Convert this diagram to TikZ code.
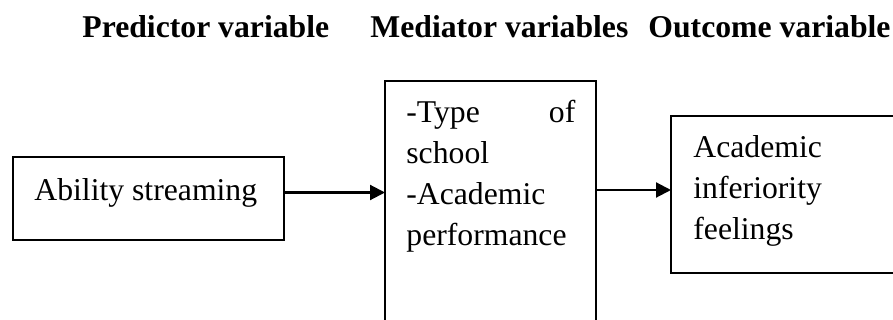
\documentclass[tikz,border=0pt]{standalone}
\usepackage{fontspec}
\setmainfont{Liberation Serif}
\usetikzlibrary{arrows.meta}

\tikzset{
  box/.style={draw, line width=1pt, anchor=north west, inner sep=0pt, outer sep=0pt},
  txt/.style={anchor=base west, inner sep=0pt, align=left},
  head/.style={anchor=base west, inner sep=0pt, font=\fontsize{15.85pt}{20.5pt}\selectfont\bfseries},
  link/.style={line width=1.05pt, -{Triangle[length=7.5pt,width=7.5pt]}}
}

\begin{document}
\begin{tikzpicture}[x=0.5pt, y=-0.5pt, font=\fontsize{15.85pt}{20.5pt}\selectfont]
\useasboundingbox (0,0) rectangle (893,320);
\clip (0,0) rectangle (893,320);

\node[head] (predictor) at (82,38) {Predictor variable};
\node[head] (mediators) at (370,38) {Mediator variables};
\node[head] (outcomehead) at (648,38) {Outcome variable};

\node[box, minimum width=135.5pt, minimum height=41.5pt] (ability) at (13,157) {};
\node[box, minimum width=105.5pt, minimum height=130pt] (mediator) at (385,81) {};
\node[box, minimum width=125pt, minimum height=78.5pt] (outcome) at (671,116) {};

\node[txt] (abilitytext) at ([shift={(21,43)}]ability.north west) {Ability streaming};
\node[txt, text width=84.5pt] (mediatortext) at ([shift={(21,42)}]mediator.north west)
  {-Type\hfill of\\school\\-Academic\\performance};
\node[txt, text width=100pt] (outcometext) at ([shift={(22,42)}]outcome.north west)
  {Academic\\inferiority\\feelings};

\draw[link] ([yshift=3pt]ability.east) -- ([yshift=3pt]ability.east -| mediator.west);
\draw[link] ([yshift=2.25pt]outcome.west -| mediator.east) -- ([yshift=2.25pt]outcome.west);
\end{tikzpicture}
\end{document}
